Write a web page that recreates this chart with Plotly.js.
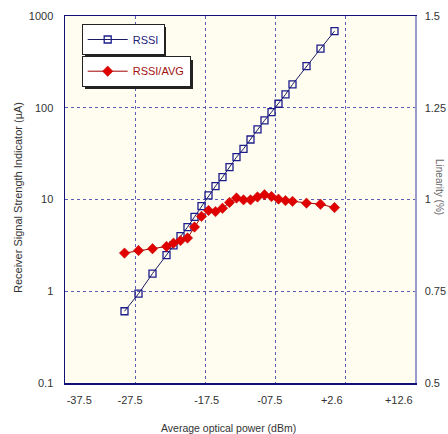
<!DOCTYPE html>
<html>
<head>
<meta charset="utf-8">
<script src="https://cdn.plot.ly/plotly-3.0.1.min.js"></script>
<style>html,body{margin:0;padding:0;background:#fff;}#chart{width:448px;height:434px;}</style>
</head>
<body>
<div id="chart"></div>
<script>
// Optical power (dBm)
const power = [-29, -27, -25, -23, -22, -21, -20, -19, -18, -17, -16, -15, -14, -13, -12, -11, -10, -9, -8, -7, -6, -5, -3, -1, 1];
// RSSI (uA), left log axis
const rssi = [0.605, 0.94, 1.56, 2.47, 3.17, 3.98, 4.99, 6.48, 8.45, 11.1, 14.0, 17.5, 22.5, 28.9, 35.7, 45.1, 58, 72.7, 89.5, 110.6, 139.6, 179.5, 284, 440, 684];
// RSSI/AVG (linearity), right linear axis
const rssiAvg = [0.854, 0.861, 0.866, 0.872, 0.881, 0.888, 0.895, 0.925, 0.954, 0.970, 0.967, 0.976, 0.992, 1.004, 0.999, 0.999, 1.007, 1.013, 1.008, 1.001, 0.997, 0.995, 0.990, 0.987, 0.978];

const xGrid = [-27.5, -17.5, -7.5, 2.5];
const xLabelPos = [-35.47, -28.21, -17.26, -8.24, 0.61, 10.19];
const xLabels = ["-37.5", "-27.5", "-17.5", "-07.5", "+2.6", "+12.6"];
const yLeftVals = [0.1, 1, 10, 100, 1000];
const yLeftLabels = ["0.1", "1", "10", "100", "1000"];
const yRightVals = [0.5, 0.75, 1, 1.25, 1.5];
const yRightLabels = ["0.5", "0.75", "1", "1.25", "1.5"];

const W = 448, H = 434, L = 65, R = 33, T = 16, B = 51;
const pw = W - L - R, ph = H - T - B;
const px = v => (v - L) / pw;
const py = v => (H - B - v) / ph;

const font = "Liberation Sans, Arial, sans-serif";
const gridColor = "#5c5cb4";

const traces = [
  {
    x: power, y: rssi, name: "RSSI", type: "scatter", mode: "lines+markers",
    xaxis: "x", yaxis: "y", legend: "legend",
    line: {color: "#1a1a60", width: 1},
    marker: {symbol: "square-open", size: 7, color: "#1c1c8c", line: {width: 1.3, color: "#1c1c8c"}},
    hoverinfo: "skip"
  },
  {
    x: power, y: rssiAvg, name: "RSSI/AVG", type: "scatter", mode: "lines+markers",
    xaxis: "x2", yaxis: "y2", legend: "legend2",
    line: {color: "#a00000", width: 1},
    marker: {symbol: "diamond", size: 8, color: "#e00000", line: {width: 0.5, color: "#c00000"}},
    hoverinfo: "skip"
  }
];

const layout = {
  width: W, height: H,
  margin: {l: L, r: R, t: T, b: B},
  paper_bgcolor: "#ffffff",
  plot_bgcolor: "#fffdf0",
  font: {family: font, size: 11, color: "#333"},
  xaxis: {
    range: [-37.5, 12.5], tickvals: xGrid, showticklabels: false, ticks: "",
    showgrid: true, gridcolor: gridColor, griddash: "dot", gridwidth: 1,
    showline: true, linecolor: "#101078", linewidth: 1.5, mirror: true, zeroline: false
  },
  xaxis2: {
    overlaying: "x", anchor: "y", side: "bottom",
    range: [-37.5, 12.5], tickvals: xLabelPos, ticktext: xLabels,
    showgrid: false, zeroline: false, ticks: "", showline: false,
    ticklabelstandoff: 9, tickfont: {family: font, size: 11, color: "#333"}
  },
  yaxis: {
    type: "log", range: [-1, 3], tickvals: yLeftVals, ticktext: yLeftLabels,
    showgrid: true, gridcolor: gridColor, griddash: "dot", gridwidth: 1,
    showline: true, linecolor: "#101078", linewidth: 1.5, zeroline: false, ticks: "",
    ticklabelstandoff: 8, tickfont: {family: font, size: 11, color: "#333"}
  },
  yaxis2: {
    overlaying: "y", anchor: "x", side: "right",
    range: [0.5, 1.5], tickvals: yRightVals, ticktext: yRightLabels,
    showgrid: false, zeroline: false, ticks: "",
    showline: true, linecolor: "#9a9acc", linewidth: 1.5,
    ticklabelstandoff: 6, tickfont: {family: font, size: 11, color: "#333"}
  },
  legend: {
    x: px(81.7), y: py(24), xanchor: "left", yanchor: "top",
    bgcolor: "#ffffff", bordercolor: "#222", borderwidth: 1,
    font: {family: font, size: 11, color: "#1c1c7a"}, itemwidth: 40,
    tracegroupgap: 0
  },
  legend2: {
    x: px(81.7), y: py(55.7), xanchor: "left", yanchor: "top",
    bgcolor: "#ffffff", bordercolor: "#222", borderwidth: 1,
    font: {family: font, size: 11, color: "#a01010"}, itemwidth: 40,
    tracegroupgap: 0
  },
  shapes: [
    {type: "rect", xref: "paper", yref: "paper", layer: "above",
     x0: px(85), x1: px(166), y0: py(27), y1: py(57), fillcolor: "#222", line: {width: 0}},
    {type: "rect", xref: "paper", yref: "paper", layer: "above",
     x0: px(85), x1: px(193), y0: py(60), y1: py(89), fillcolor: "#222", line: {width: 0}}
  ],
  annotations: [
    {text: "Average optical power (dBm)", xref: "paper", yref: "paper",
     x: px(228), y: py(427.7), xanchor: "center", yanchor: "middle", showarrow: false,
     font: {family: font, size: 10.5, color: "#333"}},
    {text: "Receiver Signal Strength Indicator (µA)", xref: "paper", yref: "paper",
     x: px(17.5), y: py(197.5), xanchor: "center", yanchor: "middle", showarrow: false,
     textangle: -90, font: {family: font, size: 11, color: "#333"}},
    {text: "Linearity (%)", xref: "paper", yref: "paper",
     x: px(440), y: py(187), xanchor: "center", yanchor: "middle", showarrow: false,
     textangle: 90, font: {family: font, size: 10, color: "#666"}}
  ],
  showlegend: true
};

Plotly.newPlot("chart", traces, layout, {staticPlot: true, displayModeBar: false});
</script>
</body>
</html>
